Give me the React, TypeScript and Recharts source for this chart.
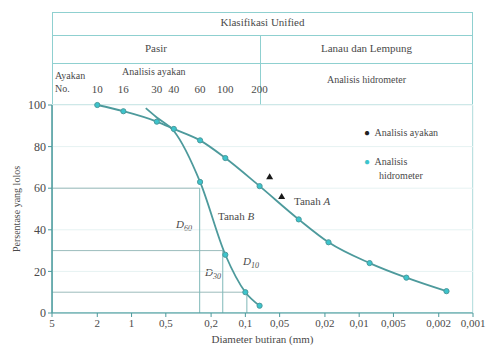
import { ComposedChart, Line, Scatter, XAxis, YAxis, CartesianGrid, ReferenceLine } from 'recharts'

const diameterTicks = [5, 2, 1, 0.5, 0.2, 0.1, 0.05, 0.02, 0.01, 0.005, 0.002, 0.001]
const percentTicks = [0, 20, 40, 60, 80, 100]
const sieveSizes = [2, 1.18, 0.6, 0.425, 0.25, 0.15, 0.075]
const sieveNumbers = ['10', '16', '30', '40', '60', '100', '200']

// Tanah A (ayakan + hidrometer)
const soilADiameter = [2, 1.18, 0.6, 0.425, 0.25, 0.15, 0.075, 0.034, 0.0186, 0.0081, 0.00385, 0.00171]
const soilAPercent = [100, 97, 92, 88.5, 83, 74.5, 61, 45, 34, 24, 17, 10.5]

// Tanah B (ayakan)
const soilBDiameter = [0.75, 0.6, 0.425, 0.25, 0.15, 0.1, 0.075]
const soilBPercent = [98.5, 94, 87.5, 63, 28, 10, 3.5]

// titik hitam di dekat Tanah A
const markDiameter = [0.0612, 0.048]
const markPercent = [65.5, 56]

// D60, D30, D10 Tanah B
const dLevels = [60, 30, 10]
const dValues = [0.252, 0.158, 0.097]

const toRows = (xs: number[], ys: number[]) => xs.map((d, i) => ({ d, p: ys[i] }))

const soilA = toRows(soilADiameter, soilAPercent)
const soilB = toRows(soilBDiameter, soilBPercent)
const marks = toRows(markDiameter, markPercent)

const fmt = (v: number) => String(v).replace('.', ',')
const sieveLabel = (v: number) => sieveNumbers[sieveSizes.indexOf(v)] ?? ''

const teal = '#4d9a9c'
const border = '#8fd0d0'
const txt = '#4a4a4a'
const font = '"Liberation Serif", serif'

const abs = (left: number, top: number, extra: object = {}) => ({
  position: 'absolute' as const, left, top, fontSize: 11, color: txt, whiteSpace: 'nowrap' as const, ...extra,
})

function cyanDot(skip: number) {
  return (props: any) => {
    const { cx, cy, index } = props
    if (index < skip) return <g key={`s${index}`} />
    return <circle key={`c${index}`} cx={cx} cy={cy} r={2.6} fill="#3cc4cc" stroke={teal} strokeWidth={1} />
  }
}

const smallTriangle = (props: any) => {
  const { cx, cy } = props
  return <path d={`M${cx},${cy - 3.5} L${cx + 3.5},${cy + 2.5} L${cx - 3.5},${cy + 2.5} Z`} fill="#1a1a1a" />
}

export default function App() {
  return (
    <div style={{ position: 'absolute', left: 0, top: 0, width: 491, height: 349, fontFamily: font, background: '#fff' }}>
      {/* header table */}
      <div style={{ position: 'absolute', left: 52, top: 12, width: 421, height: 301, border: `1.5px solid ${border}`, boxSizing: 'border-box' }} />
      <div style={{ position: 'absolute', left: 52, top: 35, width: 421, borderTop: `1.5px solid ${border}` }} />
      <div style={{ position: 'absolute', left: 52, top: 63, width: 421, borderTop: `1.5px solid ${border}` }} />
      <div style={{ position: 'absolute', left: 52, top: 104, width: 421, borderTop: `1px solid #b5dede` }} />
      <div style={{ position: 'absolute', left: 260, top: 35, height: 70, borderLeft: `1.5px solid ${border}` }} />
      <div style={abs(52, 16, { width: 421, textAlign: 'center' })}>Klasifikasi Unified</div>
      <div style={abs(52, 42, { width: 208, textAlign: 'center' })}>Pasir</div>
      <div style={abs(260, 42, { width: 213, textAlign: 'center' })}>Lanau dan Lempung</div>
      <div style={abs(260, 74, { width: 213, textAlign: 'center', fontSize: 10 })}>Analisis hidrometer</div>
      <div style={abs(122, 66, { fontSize: 10 })}>Analisis ayakan</div>
      <div style={abs(55, 69, { fontSize: 10, lineHeight: '13px' })}>Ayakan<br />No.</div>

      {/* annotations */}
      <div style={abs(294, 195)}>Tanah <i>A</i></div>
      <div style={abs(218, 210)}>Tanah <i>B</i></div>
      <div style={abs(176, 218, { fontStyle: 'italic' })}>D<sub style={{ fontSize: 8 }}>60</sub></div>
      <div style={abs(205, 266, { fontStyle: 'italic' })}>D<sub style={{ fontSize: 8 }}>30</sub></div>
      <div style={abs(243, 255, { fontStyle: 'italic' })}>D<sub style={{ fontSize: 8 }}>10</sub></div>

      {/* legend */}
      <div style={abs(364, 127, { fontSize: 10 })}><span style={{ color: '#222' }}>●</span>&nbsp; Analisis ayakan</div>
      <div style={abs(364, 155, { fontSize: 10, lineHeight: '14px' })}>
        <span style={{ color: '#3cc4cc' }}>●</span>&nbsp; Analisis<br />&nbsp;&nbsp;&nbsp;&nbsp;&nbsp; hidrometer
      </div>

      <div style={abs(52, 333, { width: 421, textAlign: 'center', fontSize: 11 })}>Diameter butiran (mm)</div>

      <div style={{ position: 'absolute', left: 0, top: 0 }}>
        <ComposedChart width={491} height={349} margin={{ top: 75, right: 18, bottom: 0, left: 0 }}>
          <CartesianGrid stroke="#e6f2f2" strokeWidth={1} verticalPoints={[]} />
          <XAxis
            xAxisId="b"
            type="number"
            dataKey="d"
            scale="log"
            domain={[0.001, 5]}
            reversed
            allowDataOverflow
            ticks={diameterTicks}
            tickFormatter={fmt}
            interval={0}
            height={36}
            axisLine={{ stroke: teal }}
            tickLine={{ stroke: teal }}
            tickSize={4}
            tick={{ fontSize: 11, fill: txt, fontFamily: font }}
          />
          <XAxis
            xAxisId="t"
            orientation="top"
            type="number"
            dataKey="d"
            scale="log"
            domain={[0.001, 5]}
            reversed
            allowDataOverflow
            ticks={sieveSizes}
            tickFormatter={sieveLabel}
            interval={0}
            height={30}
            axisLine={false}
            tickLine={false}
            tickMargin={6}
            tick={{ fontSize: 11, fill: txt, fontFamily: font }}
          />
          <YAxis
            type="number"
            domain={[0, 100]}
            ticks={percentTicks}
            width={52}
            axisLine={{ stroke: teal, strokeWidth: 1.5 }}
            tickLine={{ stroke: teal }}
            tickSize={4}
            tick={{ fontSize: 12, fill: txt, fontFamily: font }}
            label={{ value: 'Persentase yang lolos', angle: -90, position: 'insideLeft', offset: 16, style: { textAnchor: 'middle' }, fontSize: 10, fill: txt, fontFamily: font }}
          />
          {dLevels.map((lv, i) => (
            <ReferenceLine key={`h${lv}`} xAxisId="b" segment={[{ x: 5, y: lv }, { x: dValues[i], y: lv }]} stroke="#9bbcbc" strokeWidth={1} />
          ))}
          {dLevels.map((lv, i) => (
            <ReferenceLine key={`v${lv}`} xAxisId="b" segment={[{ x: dValues[i], y: 0 }, { x: dValues[i], y: lv }]} stroke="#7fb8b8" strokeWidth={1} />
          ))}
          <Line xAxisId="b" data={soilA} dataKey="p" type="monotone" stroke={teal} strokeWidth={1.8} dot={cyanDot(0)} isAnimationActive={false} />
          <Line xAxisId="b" data={soilB} dataKey="p" type="monotone" stroke={teal} strokeWidth={1.8} dot={cyanDot(3)} isAnimationActive={false} />
          <Scatter xAxisId="b" data={marks} dataKey="p" shape={smallTriangle} isAnimationActive={false} />
        </ComposedChart>
      </div>
    </div>
  )
}
